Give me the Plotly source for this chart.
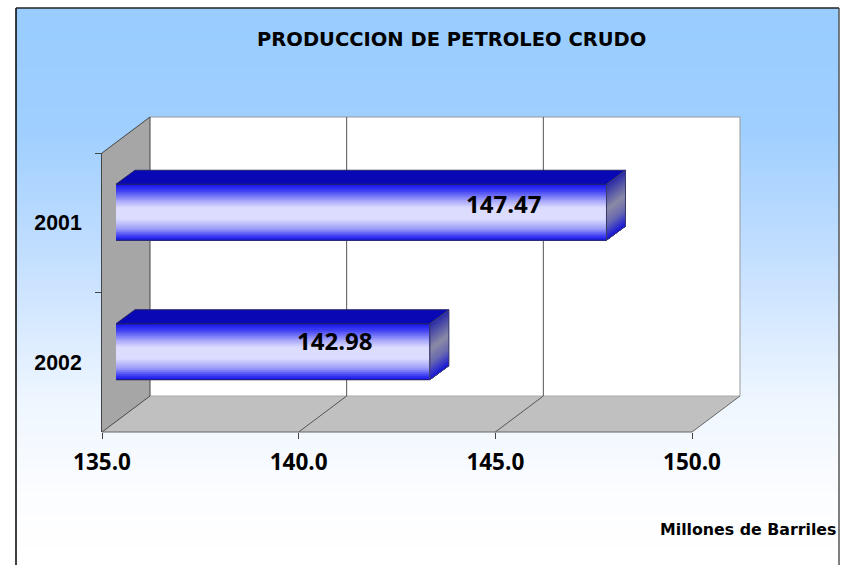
import plotly.graph_objects as go

# --- data -------------------------------------------------------------
years = ["2002", "2001"]
values = [142.98, 147.47]
value_labels = ["142.98", "147.47"]
x_ticks = [135, 140, 145, 150]
title_text = "PRODUCCION DE PETROLEO CRUDO"
unit_text = "Millones de Barriles"

# --- layout constants -------------------------------------------------
W, H = 841, 565
X0, X1 = 102, 692          # front axis pixel span
YT, YB = 153, 432          # front axis vertical span
DX, DY = 48, 36            # wall depth
BX, BY = 14, 10.5          # bar position inside the depth
FONT_NUM = "Open Sans"
px = lambda v: v / W
py = lambda v: 1 - v / H
RANGE = [135, 150]
SCALE = (X1 - X0) / (RANGE[1] - RANGE[0])
tx = lambda v: X0 + (v - RANGE[0]) * SCALE


def hx(c):
    return tuple(int(c[i:i + 2], 16) for i in (1, 3, 5))


def ramp(stops, t):
    for (a, ca), (b, cb) in zip(stops, stops[1:]):
        if t <= b:
            f = 0 if b == a else (t - a) / (b - a)
            r = [round(p + (q - p) * f) for p, q in zip(hx(ca), hx(cb))]
            return "rgb(%d,%d,%d)" % tuple(r)
    return stops[-1][1]


shapes = []


def rect(x0, y0, x1, y1, fill):
    shapes.append(dict(type="rect", xref="paper", yref="paper", x0=px(x0), x1=px(x1), y0=py(y1), y1=py(y0),
                       fillcolor=fill, line=dict(width=0), layer="below"))


def poly(pts, fill, line="rgba(0,0,0,0)", w=1):
    path = "M" + " L".join(f"{px(a):.5f},{py(b):.5f}" for a, b in pts) + " Z"
    shapes.append(dict(type="path", xref="paper", yref="paper", path=path, fillcolor=fill,
                       line=dict(color=line, width=w), layer="below"))


def seg(a, b, c, d, color, w=1):
    shapes.append(dict(type="line", xref="paper", yref="paper", x0=px(a), y0=py(b), x1=px(c), y1=py(d),
                       line=dict(color=color, width=w), layer="below"))


# background gradient + frame
bg_stops = [(8, "#99CCFF"), (130, "#9FCFFF"), (260, "#C4DFFF"), (400, "#EEF6FF"), (500, "#FCFDFF"), (565, "#FFFFFF")]
for y in range(8, H, 4):
    rect(16, y, 839, min(y + 4, H), ramp(bg_stops, y + 2))
seg(16, 8, 16, H, "#000000", 1.5)
seg(16, 8, 839, 8, "#222222", 1.5)
seg(839, 8, 839, H, "#555555", 1.5)

# 3-D walls
rect(X0 + DX, YT - DY, X1 + DX, YB - DY, "#FFFFFF")
poly([(X0, YT), (X0 + DX, YT - DY), (X0 + DX, YB - DY), (X0, YB)], "#A6A6A6")
poly([(X0, YB), (X0 + DX, YB - DY), (X1 + DX, YB - DY), (X1, YB)], "#C0C0C0")
seg(X0 + DX, YT - DY, X1 + DX, YT - DY, "#999999")
seg(X1 + DX, YT - DY, X1 + DX, YB - DY, "#999999")
seg(X0 + DX, YB - DY, X1 + DX, YB - DY, "#AAAAAA")
seg(X0, YT, X0 + DX, YT - DY, "#444444")
seg(X0 + DX, YT - DY, X0 + DX, YB - DY, "#444444")
seg(X0, YB, X0 + DX, YB - DY, "#444444")
seg(X1, YB, X1 + DX, YB - DY, "#666666")
seg(X0, YB, X1, YB, "#666666")
for t in x_ticks[1:-1]:
    seg(tx(t) + DX, YT - DY, tx(t) + DX, YB - DY, "#555555")
    seg(tx(t), YB, tx(t) + DX, YB - DY, "#555555")

traces = []
# hidden trace that carries the category axis
traces.append(go.Bar(y=years, x=values, orientation="h", xaxis="x", yaxis="y",
                     marker=dict(color="rgba(0,0,0,0)", line=dict(width=0)), hoverinfo="skip", showlegend=False))

# bar front face: gradient made of thin bands, each one reaching down to the bar's lower edge
BAR_W = 56 / ((YB - YT) / 2)
N = 28
band = BAR_W / N
grad = [(0, "#1414EE"), (0.12, "#4040F4"), (0.3, "#A8A8FA"), (0.42, "#DCDCFF"), (0.62, "#DCDCFF"),
        (0.8, "#9A9AF8"), (0.93, "#3A3AF2"), (1, "#1414EA")]
idx = list(range(len(values)))
for i in range(N):
    traces.append(go.Bar(y=idx, x=values, orientation="h", xaxis="x2", yaxis="y2",
                         offset=-BAR_W / 2, width=BAR_W - i * band,
                         marker=dict(color=ramp(grad, (i + .5) / N), line=dict(width=0)),
                         hoverinfo="skip", showlegend=False))
traces.append(go.Bar(y=idx, x=values, orientation="h", xaxis="x2", yaxis="y2", width=BAR_W,
                     marker=dict(color="rgba(0,0,0,0)", line=dict(color="#1E1E5A", width=1)),
                     hoverinfo="skip", showlegend=False))

# top and end faces of each bar, placed through the bar axes
ddx = 19 / SCALE
ddy = 14 / ((YB - YT) / 2)
side = [(0, "#2A2AA8"), (0.45, "#8A8AA6"), (0.7, "#6A6AB0"), (1, "#1414D8")]
for k, v in enumerate(values):
    top = k + BAR_W / 2
    bot = k - BAR_W / 2
    traces.append(go.Scatter(x=[RANGE[0], v, v + ddx, RANGE[0] + ddx, RANGE[0]],
                             y=[top, top, top + ddy, top + ddy, top],
                             mode="lines", fill="toself", fillcolor="#0808B4", xaxis="x2", yaxis="y2",
                             line=dict(color="#20206A", width=1), hoverinfo="skip", showlegend=False))
    M = 28
    for i in range(M):
        a = top - (top - bot) * i / M
        traces.append(go.Scatter(x=[v, v + ddx, v + ddx, v, v], y=[a, a + ddy, bot + ddy, bot, a],
                                 mode="lines", fill="toself", fillcolor=ramp(side, (i + .5) / M),
                                 xaxis="x2", yaxis="y2", line=dict(width=0), hoverinfo="skip", showlegend=False))
    traces.append(go.Scatter(x=[v, v + ddx, v + ddx, v, v], y=[top, top + ddy, bot + ddy, bot, top],
                             mode="lines", xaxis="x2", yaxis="y2", line=dict(color="#3A3A6A", width=1),
                             hoverinfo="skip", showlegend=False))

fig = go.Figure(traces)

label_xshift = [-95, -103]
label_yshift = [11, 9]
annotations = [
    dict(text=f"<b>{title_text}</b>", xref="paper", yref="paper", x=px(451), y=py(39), xanchor="center",
         yanchor="middle", showarrow=False, font=dict(family="DejaVu Sans", size=19.5, color="#000000")),
    dict(text=f"<b>{unit_text}</b>", xref="paper", yref="paper", x=px(838), y=py(529), xanchor="right",
         yanchor="middle", showarrow=False, font=dict(family="DejaVu Sans", size=15.8, color="#000000")),
]
for k, (v, lab) in enumerate(zip(values, value_labels)):
    annotations.append(dict(text=f"<b>{lab}</b>", xref="x2", yref="y2", x=v, y=k, xshift=label_xshift[k],
                            yshift=label_yshift[k], xanchor="center", yanchor="middle", showarrow=False,
                            font=dict(family=FONT_NUM, size=24, color="#000000")))

fig.update_layout(
    width=W, height=H, margin=dict(l=0, r=0, t=0, b=0, pad=0), autosize=False,
    paper_bgcolor="#FFFFFF", plot_bgcolor="rgba(0,0,0,0)", showlegend=False, barmode="overlay",
    shapes=shapes, annotations=annotations,
    xaxis=dict(domain=[px(X0), px(X1)], range=RANGE, tickvals=x_ticks, tickformat=".1f", anchor="y", side="bottom",
               ticks="outside", ticklen=6, tickcolor="#444444", showgrid=False, zeroline=False, automargin=False,
               showline=False, ticklabelstandoff=4,
               tickfont=dict(family=FONT_NUM, size=22.5, color="#000000", weight=700)),
    yaxis=dict(domain=[py(YB), py(YT)], type="category", categoryorder="array", categoryarray=years,
               range=[-0.5, 1.5], anchor="x", tickson="boundaries", ticks="outside", ticklen=6, tickcolor="#444444",
               showgrid=False, zeroline=False, showline=True, linecolor="#444444", linewidth=1, automargin=False,
               ticklabelstandoff=15,
               tickfont=dict(family="Liberation Sans", size=21.3, color="#000000", weight=700)),
    xaxis2=dict(domain=[px(X0 + BX), px(X1 + BX)], range=RANGE, anchor="y2", visible=False, automargin=False),
    yaxis2=dict(domain=[py(YB - BY), py(YT - BY)], range=[-0.5, 1.5], anchor="x2", visible=False, automargin=False),
)

fig.write_html("out.html", config={"displayModeBar": False},
               post_script="document.body.style.margin='0';document.body.style.overflow='hidden';")
